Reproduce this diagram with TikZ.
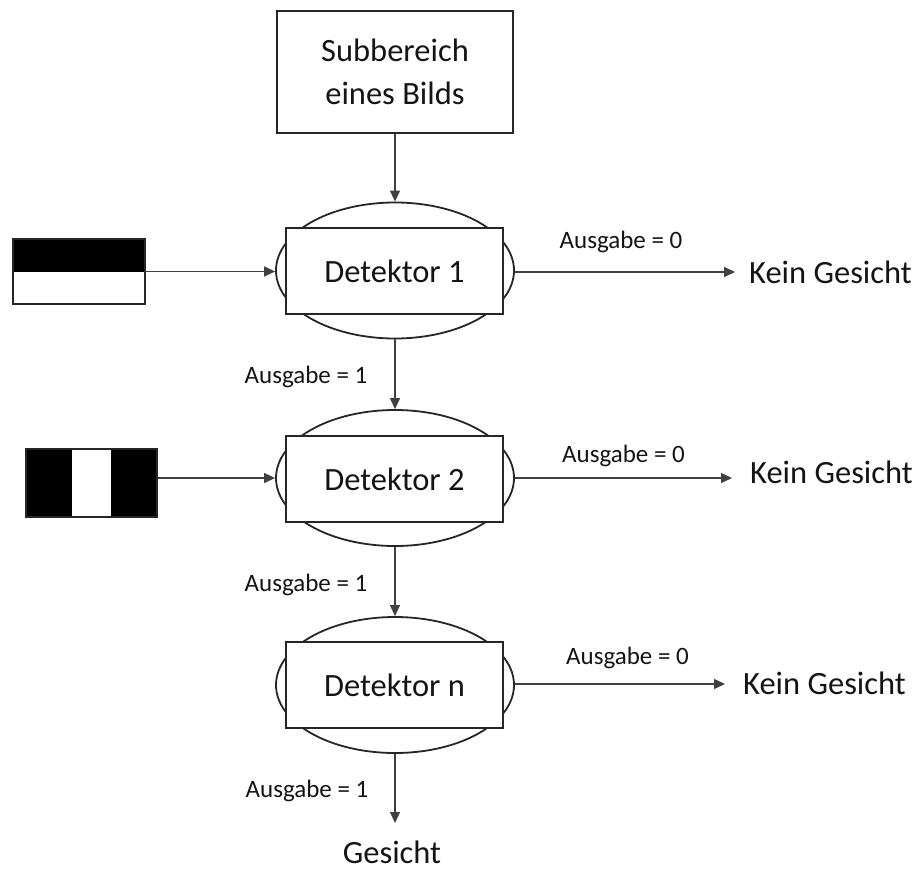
\documentclass[tikz,border=0pt]{standalone}
\usepackage{fontspec}
\setmainfont{Carlito}
\usetikzlibrary{shapes.geometric,arrows.meta}
\begin{document}
\begin{tikzpicture}[x=1pt,y=-1pt,
  boxline/.style={draw=black!85, line width=1.8pt},
  detell/.style={ellipse, boxline, minimum width=238pt, minimum height=136pt, inner sep=0pt},
  detbox/.style={rectangle, boxline, fill=white, minimum width=217pt, minimum height=86pt, inner sep=0pt},
  bigtext/.style={font=\fontsize{32.5}{42}\selectfont, text=black!92, inner sep=0pt},
  smalltext/.style={font=\fontsize{25}{28}\selectfont, text=black!92, inner sep=0pt},
  conn/.style={draw=black!75, line width=1.2pt, -{Triangle[length=11pt,width=10pt]}},
]
\useasboundingbox (0,0) rectangle (920,872);

% source box
\node[rectangle, boxline, minimum width=236pt, minimum height=122pt, align=center,
      font=\fontsize{32.5}{43}\selectfont, text=black!92, inner sep=0pt] (sub) at (395,72)
      {Subbereich\\eines Bilds};

% detectors
\node[detell] (e1) at (395,270.5) {};
\node[detbox, bigtext] (b1) at (394.5,271) {Detektor 1};
\node[detell] (e2) at (395,478) {};
\node[detbox, bigtext] (b2) at (394.5,479) {Detektor 2};
\node[detell] (e3) at (395,685) {};
\node[detbox, bigtext] (b3) at (394.5,685) {Detektor n};

% feature patterns
\node[rectangle, minimum width=132pt, minimum height=65pt, inner sep=0pt] (p1) at (79,271.5) {};
\fill[black] (p1.north west) rectangle (p1.east);
\draw[black!85, line width=1.5pt] (p1.north west) rectangle (p1.south east);

\node[rectangle, draw=black!85, line width=1.5pt, fill=black, minimum width=131pt, minimum height=68pt, inner sep=0pt] (p2) at (91.5,483) {};
\fill[white] (72,450) rectangle (111,516);

% outputs
\node[bigtext, anchor=base west] (k1) at (749,283) {Kein Gesicht};
\node[bigtext, anchor=base west] (k2) at (750,483) {Kein Gesicht};
\node[bigtext, anchor=base west] (k3) at (743,694) {Kein Gesicht};
\node[bigtext, anchor=base] (g) at (392,863) {Gesicht};

\coordinate (k1e) at (735,272);
\coordinate (k2e) at (732,478);
\coordinate (k3e) at (725,684);
\coordinate (ge) at (395,823);

% labels
\node[smalltext, anchor=base] (l01) at (621,248) {Ausgabe = 0};
\node[smalltext, anchor=base] (l02) at (623.5,462) {Ausgabe = 0};
\node[smalltext, anchor=base] (l03) at (627.5,664) {Ausgabe = 0};
\node[smalltext, anchor=base] (l11) at (306,383) {Ausgabe = 1};
\node[smalltext, anchor=base] (l12) at (306,591) {Ausgabe = 1};
\node[smalltext, anchor=base] (l13) at (307,797) {Ausgabe = 1};

% connectors
\draw[conn] (sub.south) -- (e1.north);
\draw[conn] (e1.south) -- (e2.north);
\draw[conn] (e2.south) -- (e3.north);
\draw[conn] (e3.south) -- (ge);

\draw[conn] (k1e -| e1.east) -- (k1e);
\draw[conn] (k2e -| e2.east) -- (k2e);
\draw[conn] (k3e -| e3.east) -- (k3e);

\draw[conn] (p1.east) -- (p1.east -| e1.west);
\draw[conn] (e2.west -| p2.east) -- (e2.west);
\end{tikzpicture}
\end{document}
